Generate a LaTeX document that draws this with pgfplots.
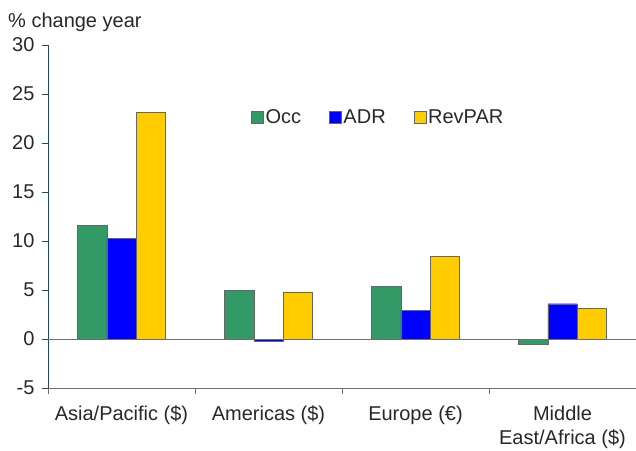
\documentclass[border=0pt]{standalone}
\usepackage{fontspec}
\setmainfont{Liberation Sans}
\usepackage{pgfplots}
\pgfplotsset{compat=1.18}
\definecolor{occ}{RGB}{51,153,102}
\definecolor{adr}{RGB}{0,0,255}
\definecolor{rev}{RGB}{255,204,0}
\definecolor{axblue}{RGB}{31,73,105}
\definecolor{txt}{RGB}{40,40,40}
\definecolor{axgray}{RGB}{110,110,110}

\begin{document}
\begin{tikzpicture}
\begin{axis}[
  scale only axis, width=588pt, height=343pt,
  clip=false,
  ymin=-5, ymax=30, ytick={-5,0,...,30},
  xmin=-0.5, xmax=3.5,
  xtick={-0.5,0.5,1.5,2.5,3.5},
  x tick label as interval,
  xticklabels={Asia/Pacific (\$),Americas (\$),Europe (€),{Middle\\East/Africa (\$)}},
  x tick label style={align=center, yshift=-8pt},
  y tick label style={xshift=-4pt},
  axis x line*=bottom, axis y line*=left,
  axis line style={-},
  x axis line style={draw=axgray},
  y axis line style={draw=axblue},
  xtick style={draw=axgray},
  ytick style={draw=axblue},
  tick align=outside, major tick length=6pt,
  /pgf/number format/assume math mode=true,
  tick label style={font=\fontsize{20}{24}\selectfont, text=txt},
  ybar=0pt, bar width=0.2,
  legend style={at={(0.34,0.79)}, anchor=west, draw=none, fill=none,
    legend columns=-1, font=\fontsize{20}{24}\selectfont, text=txt,
    /tikz/every even column/.append style={column sep=26pt}},
  legend image code/.code={\draw[#1] (0pt,-6pt) rectangle (12pt,6pt);},
]
\addplot[fill=occ, draw=black!60] coordinates {(0,11.6)(1,5.0)(2,5.4)(3,-0.5)};
\addlegendentry{Occ}
\addplot[fill=adr, draw=black!60] coordinates {(0,10.3)(1,-0.2)(2,2.9)(3,3.6)};
\addlegendentry{ADR}
\addplot[fill=rev, draw=black!60] coordinates {(0,23.1)(1,4.8)(2,8.4)(3,3.1)};
\addlegendentry{RevPAR}
\draw[axgray] (axis cs:-0.5,0) -- (axis cs:3.5,0);
\coordinate (ll) at (rel axis cs:0,0);
\coordinate (ur) at (rel axis cs:1,1);
\node[anchor=base west, font=\fontsize{20}{24}\selectfont, text=txt, inner sep=0pt]
  at ([xshift=-40pt,yshift=17pt]rel axis cs:0,1) {\% change year};
\end{axis}
\pgfresetboundingbox
\path ([xshift=-48pt,yshift=-62pt]ll) rectangle ([yshift=45pt]ur);
\end{tikzpicture}
\end{document}
